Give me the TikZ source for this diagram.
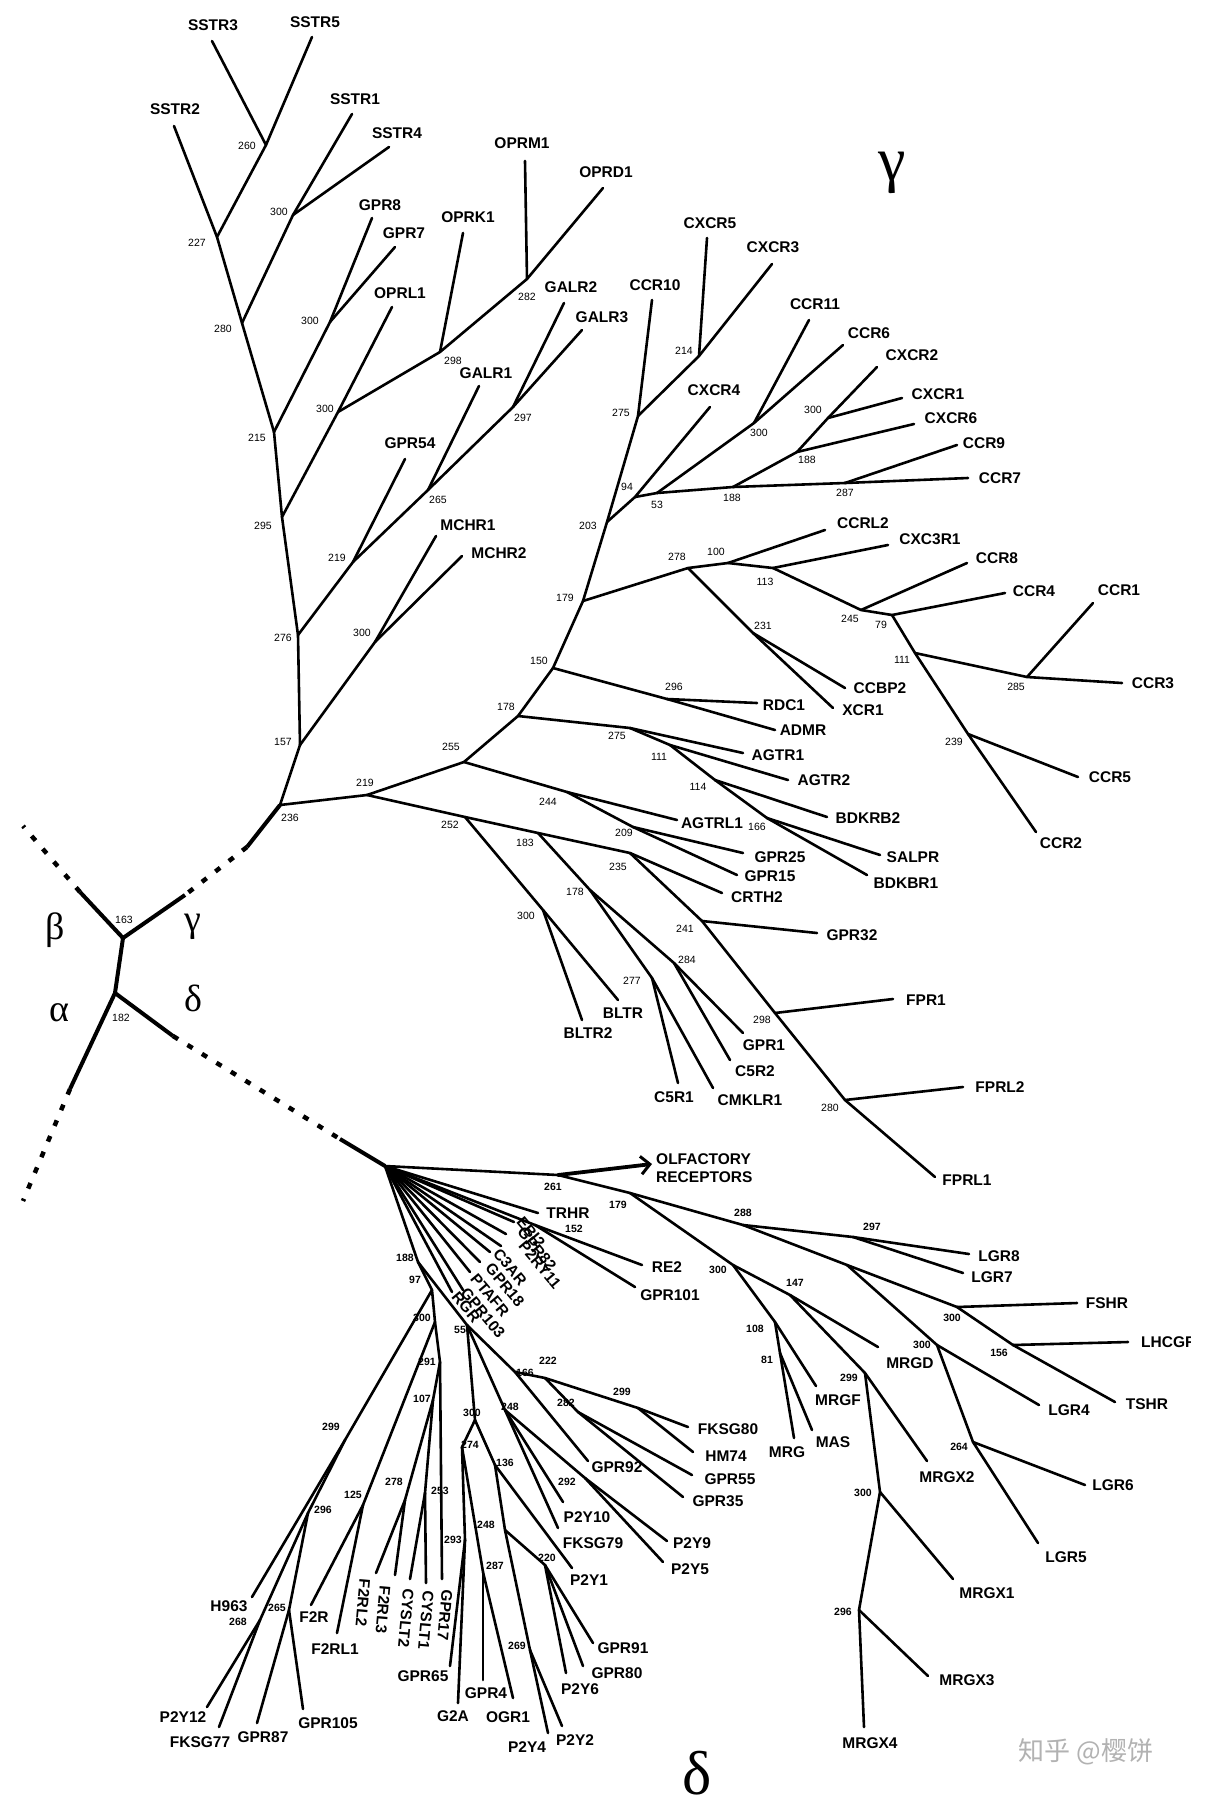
\documentclass[tikz,border=0pt]{standalone}
\usepackage{fontspec}
\setmainfont{Liberation Sans}
\newfontfamily\grk{Liberation Serif}
\newfontfamily\cjk{Noto Sans CJK SC}
\usetikzlibrary{arrows.meta}
\begin{document}
\begin{tikzpicture}[x=1pt,y=-1pt,
  br/.style={line width=2.6pt,line cap=round,line join=round},
  rootline/.style={line width=4pt},
  dotline/.style={line width=4.5pt,dash pattern=on 6pt off 11pt},
  lbl/.style={font=\bfseries\fontsize{15.5}{16}\selectfont,inner sep=0pt},
  bs/.style={font=\fontsize{10.5}{11}\selectfont,inner sep=0pt},
  bsd/.style={font=\bfseries\fontsize{10.5}{11}\selectfont,inner sep=0pt},
  gk/.style={font=\grk\fontsize{38}{40}\selectfont,inner sep=0pt},
  gkb/.style={font=\grk\fontsize{62}{64}\selectfont,inner sep=0pt}]
\useasboundingbox (0,0) rectangle (1211,1800);
\fill[white] (0,0) rectangle (1211,1800);
% ---------------- internal nodes (gamma) ----------------
\foreach \n/\x/\y in {n260/266/145,n227/217/237,n300a/293/215,n280/242/323,n300b/330/322,n215/274/432,n300c/338/412,n298/440/352,n282/527/279,n295/282/517,n276/298/635,n219a/353/562,n265/428/490,n297/513/407,n157/300/745,n300d/375/642,n236/280/805,n219b/367/795,n255/464/762,n178a/518/716,n150/553/668,n179a/583/601,n203/607/522,n275a/638/416,n214/699/356,n94/635/497,n53/657/493,n300e/754/423,n188a/733/487,n188b/797/452,n300f/828/418,n287/845/483,n278/688/568,n100/728/563,n113/773/568,n245/861/610,n79/892/615,n111a/915/653,n285/1027/677,n239/968/734,n231/753/633,n296a/667/699,n275b/630/728,n111b/670/745,n114/715/780,n166a/767/818,n244/567/792,n209/633/827,n252/465/817,n300g/543/910,n183/538/833,n178b/590/890,n277/652/978,n284/674/963,n235/630/853,n241/702/921,n298b/775/1013,n280b/845/1100}
  \coordinate (\n) at (\x,\y);
% ---------------- leaves (gamma) ----------------
\foreach \n/\x/\y in {SSTR3/212/41,SSTR5/312/37,SSTR2/174/126,SSTR1/352/114,SSTR4/389/147,GPR8/372/218,GPR7/395/247,OPRL1/392/307,GPR54/405/459,OPRK1/463/233,OPRM1/525/161,OPRD1/603/188,GALR2/564/303,GALR3/582/330,GALR1/479/386,MCHR1/436/536,MCHR2/462/556,CCR10/652/300,CXCR5/707/238,CXCR3/772/264,CXCR4/710/407,CCR11/809/320,CCR6/843/345,CXCR2/877/367,CXCR1/902/398,CXCR6/914/424,CCR9/957/445,CCR7/968/478,CCRL2/825/530,CXC3R1/888/545,CCR8/967/563,CCR4/1005/593,CCR1/1093/603,CCR3/1122/683,CCR5/1078/777,CCR2/1036/832,CCBP2/845/688,XCR1/833/708,RDC1/757/703,ADMR/775/730,AGTR1/743/753,AGTR2/788/780,BDKRB2/827/817,SALPR/880/855,BDKBR1/867/875,AGTRL1/677/820,GPR25/743/853,GPR15/737/875,CRTH2/722/893,GPR32/817/933,FPR1/893/999,FPRL2/963/1087,FPRL1/935/1177,BLTR/618/1000,BLTR2/582/1020,C5R1/678/1083,CMKLR1/713/1088,GPR1/743/1033,C5R2/730/1060}
  \coordinate (\n) at (\x,\y);
% ---------------- edges (gamma) ----------------
\foreach \a/\b in {n260/SSTR3,n260/SSTR5,n227/SSTR2,n227/n260,n300a/SSTR1,n300a/SSTR4,n280/n227,n280/n300a,n300b/GPR8,n300b/GPR7,n215/n280,n215/n300b,n295/n215,n295/n300c,n300c/OPRL1,n300c/n298,n298/OPRK1,n298/n282,n282/OPRM1,n282/OPRD1,n276/n295,n276/n219a,n219a/GPR54,n219a/n265,n265/GALR1,n265/n297,n297/GALR2,n297/GALR3,n157/n276,n157/n300d,n300d/MCHR1,n300d/MCHR2,n236/n157,n236/n219b,n219b/n255,n219b/n252,n255/n178a,n255/n244,n178a/n150,n178a/n275b,n150/n179a,n150/n296a,n179a/n203,n179a/n278,n203/n275a,n203/n94,n275a/CCR10,n275a/n214,n214/CXCR5,n214/CXCR3,n94/CXCR4,n94/n53,n53/n300e,n53/n188a,n300e/CCR11,n300e/CCR6,n188a/n188b,n188a/n287,n188b/n300f,n188b/CXCR6,n300f/CXCR2,n300f/CXCR1,n287/CCR9,n287/CCR7,n278/n100,n278/n231,n100/CCRL2,n100/n113,n113/CXC3R1,n113/n245,n245/CCR8,n245/n79,n79/CCR4,n79/n111a,n111a/n285,n111a/n239,n285/CCR1,n285/CCR3,n239/CCR5,n239/CCR2,n231/CCBP2,n231/XCR1,n296a/RDC1,n296a/ADMR,n275b/AGTR1,n275b/n111b,n111b/AGTR2,n111b/n114,n114/BDKRB2,n114/n166a,n166a/SALPR,n166a/BDKBR1,n244/AGTRL1,n244/n209,n209/GPR25,n209/GPR15,n252/n300g,n252/n183,n300g/BLTR,n300g/BLTR2,n183/n178b,n183/n235,n178b/n277,n178b/n284,n277/C5R1,n277/CMKLR1,n284/GPR1,n284/C5R2,n235/CRTH2,n235/n241,n241/GPR32,n241/n298b,n298b/FPR1,n298b/n280b,n280b/FPRL2,n280b/FPRL1}
  \draw[br] (\a) -- (\b);
% ---------------- leaf labels (gamma) ----------------
\foreach \n/\x/\y in {SSTR3/213/25,SSTR5/315/22,SSTR2/175/109,SSTR1/355/99,SSTR4/397/133,GPR8/380/205,GPR7/404/233,OPRL1/400/293,GPR54/410/443,OPRK1/468/217,OPRM1/522/143,OPRD1/606/172,GALR2/571/287,GALR3/602/317,GALR1/486/373,MCHR1/468/525,MCHR2/499/553,CCR10/655/285,CXCR5/710/223,CXCR3/773/247,CXCR4/714/390,CCR11/815/304,CCR6/869/333,CXCR2/912/355,CXCR1/938/394,CXCR6/951/418,CCR9/984/443,CCR7/1000/478,CCRL2/863/523,CXC3R1/930/539,CCR8/997/558,CCR4/1034/591,CCR1/1119/590,CCR3/1153/683,CCR5/1110/777,CCR2/1061/843,CCBP2/880/688,XCR1/863/710,RDC1/784/705,ADMR/803/730,AGTR1/778/755,AGTR2/824/780,BDKRB2/868/818,SALPR/913/857,BDKBR1/906/883,AGTRL1/712/823,GPR25/780/857,GPR15/770/876,CRTH2/757/897,GPR32/852/935,FPR1/926/1000,FPRL2/1000/1087,FPRL1/967/1180,BLTR/623/1013,BLTR2/588/1033,C5R1/674/1097,CMKLR1/750/1100,GPR1/764/1045,C5R2/755/1071}
  \node[lbl] (t\n) at (\x,\y) {\n};
% ---------------- bootstrap labels (gamma) ----------------
\foreach \n/\x/\y/\v in {a1/247/146/260,a2/197/243/227,a3/279/212/300,a4/223/329/280,a5/310/321/300,a6/257/438/215,a7/325/409/300,a8/453/361/298,a9/527/297/282,a10/263/526/295,a11/283/638/276,a12/337/558/219,a13/438/500/265,a14/523/418/297,a15/283/742/157,a16/362/633/300,a17/290/818/236,a18/365/783/219,a19/451/747/255,a20/506/707/178,a21/539/661/150,a22/565/598/179,a23/588/526/203,a24/621/413/275,a25/684/351/214,a26/627/487/94,a27/657/505/53,a28/759/433/300,a29/732/498/188,a30/807/460/188,a31/813/410/300,a32/845/493/287,a33/677/557/278,a34/716/552/100,a35/765/582/113,a36/850/619/245,a37/881/625/79,a38/902/660/111,a39/1016/687/285,a40/954/742/239,a41/763/626/231,a42/674/687/296,a43/617/736/275,a44/659/757/111,a45/698/787/114,a46/757/827/166,a47/548/802/244,a48/624/833/209,a49/450/825/252,a50/526/916/300,a51/525/843/183,a52/575/892/178,a53/632/981/277,a54/687/960/284,a55/618/867/235,a56/685/929/241,a57/762/1020/298,a58/830/1108/280,a59/124/920/163,a60/121/1018/182}
  \node[bs] (b\n) at (\x,\y) {\v};
% ---------------- root ----------------
\coordinate (n163) at (123,938);
\coordinate (n182) at (115,993);
\coordinate (D0) at (385,1166);
\coordinate (g1) at (247,847); \coordinate (g2) at (185,895);
\coordinate (b1) at (80,892);  \coordinate (b2) at (23,826);
\coordinate (a1) at (70,1089); \coordinate (a2) at (23,1201);
\coordinate (d1) at (173,1036); \coordinate (d2) at (340,1139);
\draw[rootline] (n236) -- (g1);
\draw[dotline] (g1) -- (g2);
\draw[rootline] (g2) -- (n163);
\draw[rootline] (n163) -- (b1);
\draw[dotline] (b1) -- (b2);
\draw[rootline] (n163) -- (n182);
\draw[rootline] (n182) -- (a1);
\draw[dotline] (a1) -- (a2);
\draw[rootline] (n182) -- (d1);
\draw[dotline] (d1) -- (d2);
\draw[rootline] (d2) -- (D0);
\node[gk] (gbeta) at (55,930) {β};
\node[gk] (ggam) at (193,927) {γ};
\node[gk] (galp) at (59,1013) {α};
\node[gk] (gdel) at (193,998) {δ};
\node[gkb] (Ggam) at (892,173) {γ};
\node[gkb] (Gdel) at (697,1773) {δ};
% ---------------- delta internal nodes ----------------
\foreach \n/\x/\y in {n261/558/1175,OLF/652/1164,n179b/630/1193,n288/743/1225,n297b/853/1237,nX/847/1265,n300h/957/1307,n156/1013/1345,n300i/937/1345,n264/973/1442,n300j/733/1265,n108/775/1322,n81/780/1353,n147/790/1295,n299b/865/1373,n300k/880/1492,n296b/859/1610,n152/535/1225,n188c/418/1262,n97/432/1290,n299d/345/1440,n296c/308/1513,n268/260/1620,n265b/289/1610,n300l/435/1322,n125/363/1505,n291/440/1362,n107/433/1400,n278b/405/1500,n263/425/1493,n300m/475/1420,n274/462/1447,n293/465/1540,n287b/483/1572,n248b/505/1530,n269/530/1650,n220/545/1565,n136/495/1465,n55/467/1325,n166b/515/1372,n248a/505/1410,n292/585/1478,n222/545/1378,n282b/578/1412,n299c/638/1408}
  \coordinate (\n) at (\x,\y);
\foreach \n/\x/\y in {TRHR/538/1213,RE2/642/1265,GPR101/635/1287,LGR8/969/1254,LGR7/963/1273,FSHR/1077/1303,LHCGR/1128/1342,TSHR/1115/1402,LGR4/1039/1405,LGR6/1085/1485,LGR5/1038/1543,MRGD/878/1347,MRGF/816/1386,MAS/812/1430,MRG/794/1438,MRGX2/927/1461,MRGX1/953/1579,MRGX3/928/1676,MRGX4/864/1727,FKSG80/688/1427,HM74/693/1452,GPR55/692/1475,GPR35/683/1497,GPR92/588/1461,P2Y9/667/1541,P2Y5/663/1562,P2Y10/563/1502,FKSG79/558/1528,P2Y1/572/1568,GPR91/593/1643,GPR80/583/1666,P2Y6/566/1673,P2Y2/562/1726,P2Y4/548/1733,OGR1/513/1698,GPR4/483/1680,G2A/458/1703,GPR65/450/1666,H963/252/1597,F2R/311/1605,F2RL1/337/1633,P2Y12/207/1707,FKSG77/219/1727,GPR87/257/1723,GPR105/303/1709,F2RL2/376/1573,F2RL3/395/1575,CYSLT2/410/1579,CYSLT1/426/1583,GPR17/442/1579,EBI2/514/1222,GPR82/506/1234,P2RY11/501/1246,C3AR/490/1252,GPR18/480/1262,PTAFR/470/1272,GPR103/463/1290,RGR/452/1292}
  \coordinate (\n) at (\x,\y);
\foreach \a/\b in {D0/n261,n261/n179b,n179b/n288,n179b/n300j,n288/n297b,n288/nX,n297b/LGR8,n297b/LGR7,nX/n300h,nX/n300i,n300h/FSHR,n300h/n156,n156/LHCGR,n156/TSHR,n300i/LGR4,n300i/n264,n264/LGR6,n264/LGR5,n300j/n108,n300j/n147,n108/MRGF,n108/n81,n81/MRG,n81/MAS,n147/MRGD,n147/n299b,n299b/MRGX2,n299b/n300k,n300k/MRGX1,n300k/n296b,n296b/MRGX3,n296b/MRGX4,D0/TRHR,D0/n152,n152/RE2,n152/GPR101,D0/EBI2,D0/GPR82,D0/P2RY11,D0/C3AR,D0/GPR18,D0/PTAFR,D0/GPR103,D0/RGR,D0/n188c,n188c/n97,n188c/n55,n97/n299d,n97/n300l,n299d/H963,n299d/n296c,n296c/n268,n296c/n265b,n268/P2Y12,n268/FKSG77,n265b/GPR87,n265b/GPR105,n300l/n125,n300l/n291,n125/F2R,n125/F2RL1,n291/GPR17,n291/n107,n107/n278b,n107/n263,n278b/F2RL2,n278b/F2RL3,n263/CYSLT2,n263/CYSLT1,n55/n300m,n300m/n274,n274/n293,n293/GPR65,n293/G2A,n274/n287b,n287b/GPR4,n287b/OGR1,n300m/n136,n136/P2Y1,n136/n248b,n248b/n269,n269/P2Y2,n269/P2Y4,n248b/n220,n220/P2Y6,n220/GPR80,n220/GPR91,n55/n166b,n166b/GPR92,n166b/n222,n222/n299c,n222/n282b,n299c/FKSG80,n299c/HM74,n282b/GPR55,n282b/GPR35,n55/n248a,n248a/P2Y10,n248a/FKSG79,n248a/n292,n292/P2Y9,n292/P2Y5}
  \draw[br] (\a) -- (\b);
\draw[br,line width=3.8pt,-{Straight Barb[length=9pt,width=18pt,line width=3pt]}] (n261) -- (OLF);
\node[font=\bfseries\fontsize{15.5}{18.5}\selectfont,inner sep=0pt,anchor=west,align=left] (tOLF) at (656,1168) {OLFACTORY\\RECEPTORS};
\foreach \n/\x/\y in {TRHR/568/1213,RE2/667/1267,GPR101/670/1295,LGR8/999/1256,LGR7/992/1277,FSHR/1107/1303,TSHR/1147/1404,LGR4/1069/1410,LGR6/1113/1485,LGR5/1066/1557,MRGD/910/1363,MRGF/838/1400,MAS/833/1442,MRG/787/1452,MRGX2/947/1477,MRGX1/987/1593,MRGX3/967/1680,MRGX4/870/1743,FKSG80/728/1429,HM74/726/1456,GPR55/730/1479,GPR35/718/1501,GPR92/617/1467,P2Y9/692/1543,P2Y5/690/1569,P2Y10/587/1517,FKSG79/593/1543,P2Y1/589/1580,GPR91/623/1648,GPR80/617/1673,P2Y6/580/1689,P2Y2/575/1740,P2Y4/527/1747,OGR1/508/1717,GPR4/486/1693,G2A/453/1716,GPR65/423/1676,H963/229/1606,F2R/314/1617,F2RL1/335/1649,P2Y12/183/1717,FKSG77/200/1742,GPR87/263/1737,GPR105/328/1723}
  \node[lbl] (t\n) at (\x,\y) {\n};
\begin{scope}
\clip (0,0) rectangle (1190,1800);
\node[lbl,anchor=west] (tLHCGR) at (1141,1342) {LHCGR};
\end{scope}
\foreach \n/\x/\y in {F2RL2/363/1603,F2RL3/383/1610,CYSLT2/406/1618,CYSLT1/426/1620,GPR17/445/1615}
  \node[lbl,rotate=-95] (t\n) at (\x,\y) {\n};
\foreach \n/\x/\y in {EBI2/531/1232,GPR82/537/1249,P2RY11/540/1265,C3AR/510/1267,GPR18/505/1285,PTAFR/490/1295,GPR103/483/1313,RGR/466/1307}
  \node[lbl,rotate=-50] (t\n) at (\x,\y) {\n};
\foreach \n/\x/\y/\v in {d1/553/1187/261,d2/618/1205/179,d3/743/1213/288,d4/872/1227/297,d5/952/1318/300,d6/999/1353/156,d7/922/1345/300,d8/959/1447/264,d9/718/1270/300,d10/795/1283/147,d11/755/1329/108,d12/767/1360/81,d13/849/1378/299,d14/863/1493/300,d15/843/1612/296,d16/574/1229/152,d17/405/1258/188,d18/415/1280/97,d19/422/1318/300,d20/460/1330/55,d21/427/1362/291,d22/422/1399/107,d23/548/1361/222,d24/525/1373/166,d25/622/1392/299,d26/566/1403/282,d27/510/1407/248,d28/472/1413/300,d29/470/1445/274,d30/505/1463/136,d31/567/1482/292,d32/440/1491/253,d33/486/1525/248,d34/453/1540/293,d35/547/1558/220,d36/495/1566/287,d37/517/1646/269,d38/331/1427/299,d39/353/1495/125,d40/323/1510/296,d41/394/1482/278,d42/277/1608/265,d43/238/1622/268}
  \node[bsd] (b\n) at (\x,\y) {\v};
\node[font=\cjk\fontsize{26}{28}\selectfont,text=black!30,inner sep=0pt] (wm) at (1086,1752) {知乎 @樱饼};
\end{tikzpicture}
\end{document}
